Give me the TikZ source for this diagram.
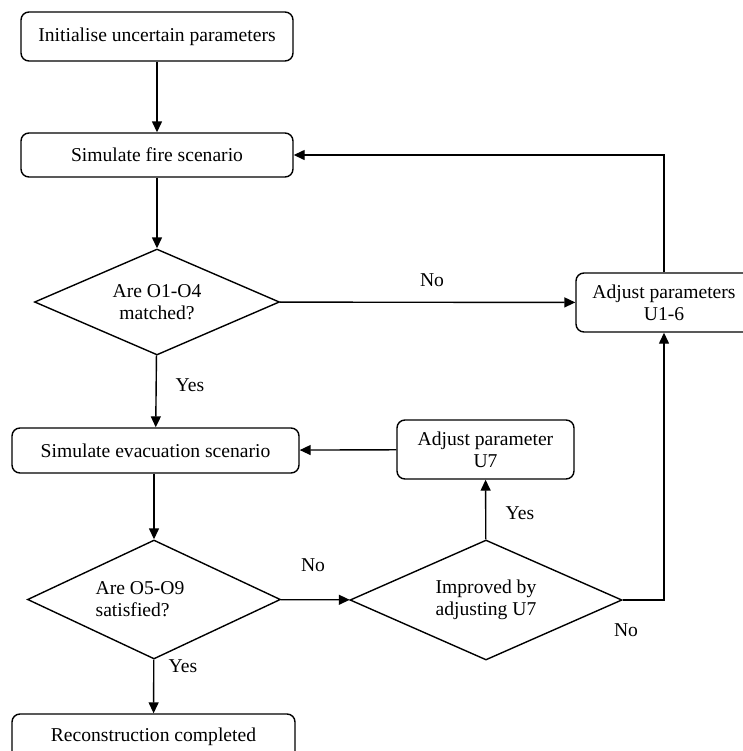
\documentclass[tikz,border=0pt]{standalone}
\usepackage{fontspec}
\setmainfont{Liberation Serif}
\usetikzlibrary{shapes.geometric,arrows.meta}
\begin{document}
\begin{tikzpicture}[x=0.5pt,y=-0.5pt,font=\fontsize{9.8}{11}\selectfont]
      \clip (0,0) rectangle (743,751);
      \begin{scope}[every node/.style={rectangle,rounded corners=4pt,draw,line width=0.7pt,align=center,inner sep=2pt}]
        \node (init) [minimum width=136pt,minimum height=24.5pt] at (157,36.5) {Initialise uncertain parameters};
        \node (fire) [minimum width=136pt,minimum height=22pt] at (157,155) {Simulate fire scenario};
        \node (adjsix) [minimum width=88pt,minimum height=29.5pt] at (664,302.5) {Adjust parameters\\U1-6};
        \node (evac) [minimum width=143.5pt,minimum height=22.5pt] at (155.5,450.5) {Simulate evacuation scenario};
        \node (adjseven) [minimum width=88.5pt,minimum height=29.5pt] at (485.5,449.5) {Adjust parameter\\U7};
        \node (recon) [minimum width=141.5pt,minimum height=23pt] at (153.5,737) {Reconstruction completed};
      \end{scope}
      \begin{scope}[every node/.style={diamond,aspect=2.3,draw,line width=0.7pt,inner sep=0pt}]
        \node (match) [minimum width=122.5pt,minimum height=53pt,align=center] at (157,302) {Are O1-O4\\matched?};
        \node (satis) [minimum width=126.5pt,minimum height=59.5pt,align=left] at (154,599.5) {Are O5-O9\hspace*{14pt}\\satisfied?};
        \node (impr) [minimum width=136pt,minimum height=60pt,align=center] at (486,600) {Improved by\\adjusting U7};
      \end{scope}
      \begin{scope}[every edge/.style={draw=black,line width=0.7pt,-{Triangle[length=5.5pt,width=5pt]}}]
        \path (init) edge (fire);
        \path (fire) edge (match);
        \path (match) edge (adjsix);
        \path (match) edge (evac);
        \path (adjsix.north) edge[to path={|- (\tikztotarget)}] (fire.east);
        \path (adjseven) edge (evac);
        \path (evac.south -| satis.north) edge (satis.north);
        \path (satis) edge (impr);
        \path (impr) edge (adjseven);
        \path (impr.east) edge[to path={-| (\tikztotarget)}] (adjsix.south);
        \path (satis) edge (recon);
      \end{scope}
      \node (nomatch) at (432,280) {No};
      \node (yesmatch) at (190,385) {Yes};
      \node (nosatis) at (313,565) {No};
      \node (yessatis) at (183,666) {Yes};
      \node (yesimpr) at (520,513) {Yes};
      \node (noimpr) at (626,630) {No};
    \end{tikzpicture}
\end{document}
